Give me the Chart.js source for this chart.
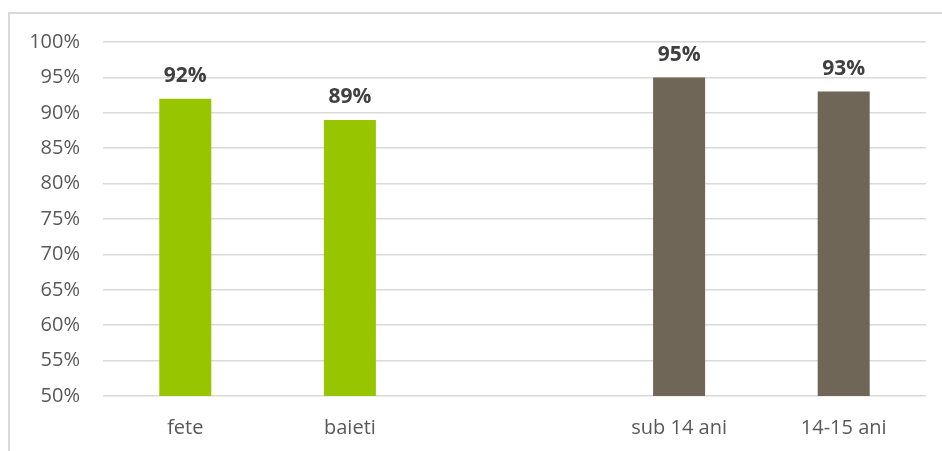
<!DOCTYPE html>
<html>
<head>
<meta charset="utf-8">
<script src="https://cdn.jsdelivr.net/npm/chart.js@4/dist/chart.umd.min.js"></script>
<style>
  html, body { margin: 0; padding: 0; background: #fff; }
  #wrap { position: relative; width: 942px; height: 451px; }
  #frame { position: absolute; left: 8px; top: 12px; right: 0; bottom: 0;
           border-left: 2px solid #d9d9d9; border-top: 2px solid #d9d9d9; }
  canvas { position: absolute; left: 0; top: 0; }
</style>
</head>
<body>
<div id="wrap">
  <div id="frame"></div>
  <canvas id="c" width="942" height="451"></canvas>
</div>
<script>
// Share of respondents, by gender and by age group (empty slot separates the groups)
const categories = ['fete', 'baieti', '', 'sub 14 ani', '14-15 ani'];
const values = [92, 89, null, 95, 93];
const barColors = ['#97c600', '#97c600', '#97c600', '#6f6657', '#6f6657'];
const yTicks = { min: 50, max: 100, step: 5 };

const FONT = "'Open Sans', Lato, sans-serif";

const valueLabels = {
  id: 'valueLabels',
  afterDatasetsDraw(chart) {
    const ctx = chart.ctx;
    const meta = chart.getDatasetMeta(0);
    ctx.save();
    ctx.font = "bold 21px " + FONT;
    ctx.fillStyle = '#404040';
    ctx.textAlign = 'center';
    ctx.textBaseline = 'bottom';
    meta.data.forEach((bar, i) => {
      const v = values[i];
      if (v === null || v === undefined) return;
      ctx.fillText(v + '%', bar.x, bar.y - 12);
    });
    ctx.restore();
  }
};

new Chart(document.getElementById('c'), {
  type: 'bar',
  data: {
    labels: categories,
    datasets: [{
      data: values,
      backgroundColor: barColors,
      borderWidth: 0,
      barPercentage: 0.316,
      categoryPercentage: 1
    }]
  },
  options: {
    responsive: false,
    animation: false,
    layout: { padding: { top: 42, right: 16, bottom: 0, left: 0 } },
    plugins: { legend: { display: false }, tooltip: { enabled: false } },
    scales: {
      x: {
        grid: { display: false },
        border: { display: false },
        ticks: { color: '#595959', font: { family: FONT, size: 20 }, padding: 12 },
        afterFit(scale) { scale.height = 55; }
      },
      y: {
        min: yTicks.min,
        max: yTicks.max,
        grid: { color: '#d9d9d9', lineWidth: 1.5, drawTicks: false },
        border: { display: false },
        ticks: {
          stepSize: yTicks.step,
          color: '#595959',
          font: { family: FONT, size: 20 },
          padding: 23,
          callback: v => v + '%'
        },
        afterFit(scale) { scale.width = 103; }
      }
    }
  },
  plugins: [valueLabels]
});
</script>
</body>
</html>
